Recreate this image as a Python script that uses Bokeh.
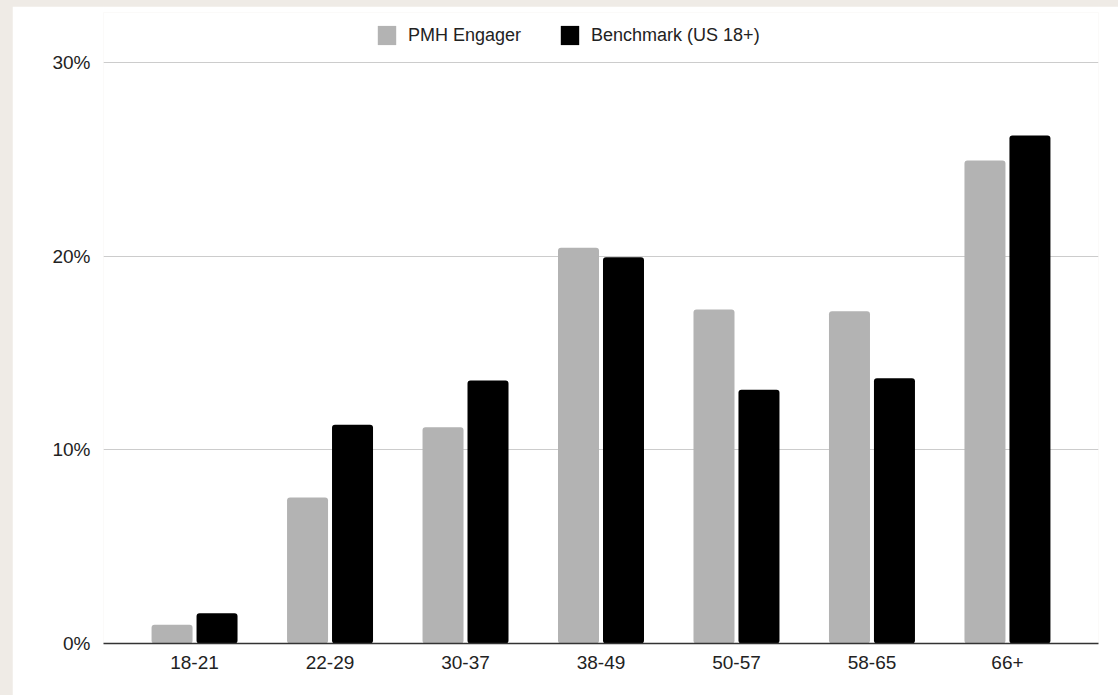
from bokeh.plotting import figure
from bokeh.models import ColumnDataSource, FactorRange, FixedTicker, Legend, LegendItem
from bokeh.transform import dodge
from bokeh.embed import file_html
from bokeh.resources import INLINE

categories = ["18-21", "22-29", "30-37", "38-49", "50-57", "58-65", "66+"]
pmh_engager = [0.97, 7.54, 11.17, 20.43, 17.24, 17.16, 24.94]
benchmark = [1.56, 11.29, 13.58, 19.94, 13.10, 13.70, 26.23]
y_ticks = [0, 10, 20, 30]
series_names = ["PMH Engager", "Benchmark (US 18+)"]

src = ColumnDataSource(dict(cat=categories, pmh=pmh_engager, bench=benchmark))

FONT = "Liberation Sans"

p = figure(
    x_range=FactorRange(*categories, range_padding=0.172, range_padding_units="absolute"),
    y_range=(0, 32.58),
    width=1106, height=689,
    output_backend="svg", toolbar_location=None,
    min_border_left=91, min_border_right=20, min_border_top=6, min_border_bottom=52,
    border_fill_color="white", background_fill_color="white",
    outline_line_color=None,
    margin=(6, 0, 0, 12),
)

r1 = p.vbar(x=dodge("cat", -0.166, range=p.x_range), top="pmh", width=0.3026, source=src,
            fill_color="#b3b3b3", line_color=None, border_radius=3)
r2 = p.vbar(x=dodge("cat", 0.166, range=p.x_range), top="bench", width=0.3026, source=src,
            fill_color="#000000", line_color=None, border_radius=3)

p.xgrid.grid_line_color = None
p.ygrid.grid_line_color = "#cccccc"
p.ygrid.grid_line_width = 1
p.ygrid.ticker = FixedTicker(ticks=y_ticks)

p.yaxis.ticker = FixedTicker(ticks=y_ticks)
p.yaxis.major_label_overrides = {t: f"{t}%" for t in y_ticks}
p.yaxis.axis_line_color = None
p.yaxis.major_tick_line_color = None
p.yaxis.minor_tick_line_color = None
p.yaxis.major_tick_out = 0
p.yaxis.major_tick_in = 0
p.yaxis.major_label_standoff = 13

p.xaxis.axis_line_color = "#333333"
p.xaxis.axis_line_width = 1.5
p.xaxis.major_tick_line_color = None
p.xaxis.minor_tick_line_color = None
p.xaxis.major_tick_out = 0
p.xaxis.major_tick_in = 0
p.xaxis.major_label_standoff = 12

for ax in (p.xaxis, p.yaxis):
    ax.major_label_text_font = FONT
    ax.major_label_text_font_size = "19px"
    ax.major_label_text_color = "#222222"

legend = Legend(
    items=[LegendItem(label=series_names[0], renderers=[r1]),
           LegendItem(label=series_names[1], renderers=[r2])],
    orientation="horizontal",
    location=(272, 596),
    glyph_width=23, glyph_height=24,
    label_standoff=10, spacing=37,
    padding=0, margin=0,
    border_line_color=None, background_fill_alpha=0,
    label_text_font=FONT, label_text_font_size="18px", label_text_color="#222222",
)
p.add_layout(legend)

html = file_html(p, INLINE)
html = html.replace("<head>", "<head><style>html,body{background:#efebe6;margin:0;}</style>", 1)
open("out.html", "w").write(html)
